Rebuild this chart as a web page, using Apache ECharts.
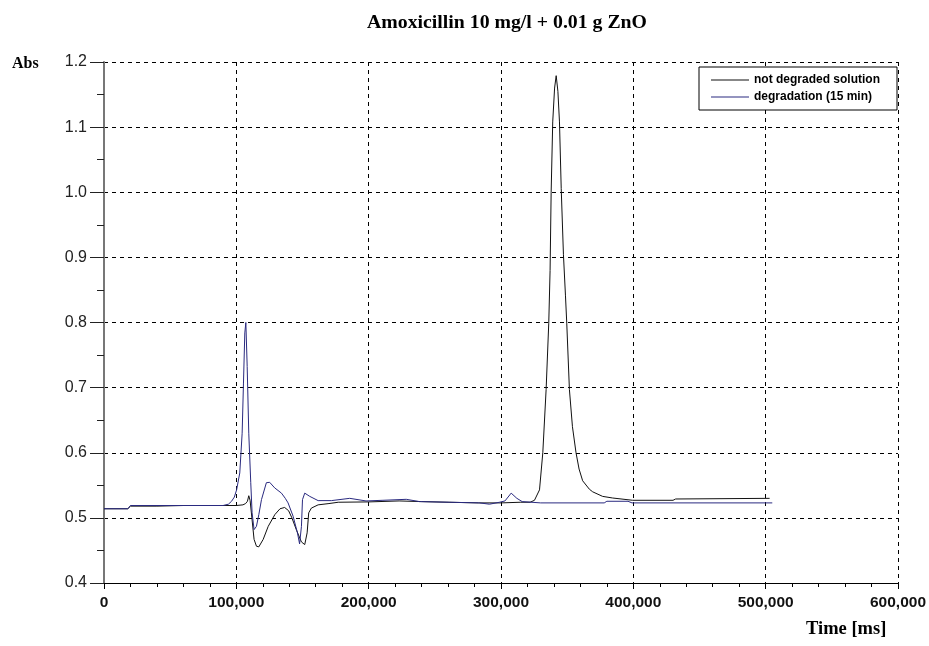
<!DOCTYPE html>
<html>
<head>
<meta charset="utf-8">
<script src="https://cdn.jsdelivr.net/npm/echarts@6/dist/echarts.min.js"></script>
<style>html,body{margin:0;padding:0;background:#fff}#c{width:929px;height:646px}</style>
</head>
<body>
<div id="c"></div>
<script>
const titleText = 'Amoxicillin 10 mg/l + 0.01 g ZnO';
const yAxisName = 'Abs';
const xAxisName = 'Time [ms]';
const seriesNames = ['not degraded solution', 'degradation (15 min)'];
const xTicks = [0, 100000, 200000, 300000, 400000, 500000, 600000];
const yTicks = [0.4, 0.5, 0.6, 0.7, 0.8, 0.9, 1.0, 1.1, 1.2];

// time [ms], absorbance
const notDegraded = [
  [0,0.514],[18000,0.514],[20000,0.518],[40000,0.518],[60000,0.519],[80000,0.519],[100000,0.519],
  [105000,0.520],[107000,0.522],[108400,0.5255],[109400,0.534],[110400,0.527],[111900,0.497],
  [113400,0.467],[115200,0.4565],[117000,0.4555],[120300,0.467],[124100,0.487],[129100,0.505],
  [133000,0.514],[136500,0.516],[139500,0.511],[142000,0.500],[145500,0.481],[149200,0.463],
  [151700,0.459],[153500,0.477],[154700,0.5077],[156700,0.515],[161800,0.520],[170000,0.522],
  [177000,0.524],[200000,0.5245],[223000,0.526],[240000,0.525],[260000,0.524],[283000,0.523],
  [300000,0.523],[315000,0.524],[322000,0.524],[325300,0.527],[329100,0.543],[331600,0.600],
  [334100,0.697],[336100,0.799],[337100,0.880],[337900,1.000],[339100,1.108],[340500,1.160],
  [341700,1.179],[343000,1.155],[344200,1.108],[345500,1.006],[347200,0.904],[348700,0.842],
  [349700,0.799],[351700,0.697],[354000,0.640],[356700,0.600],[359000,0.575],[361700,0.557],
  [366800,0.544],[369300,0.540],[376800,0.533],[384400,0.5305],[399500,0.527],[430000,0.527],
  [432000,0.529],[503000,0.530]
];
const degraded15 = [
  [0,0.514],[18000,0.514],[20000,0.519],[60000,0.519],[90000,0.519],[94000,0.521],[96400,0.5255],
  [98500,0.532],[100200,0.543],[102600,0.569],[104400,0.630],[105400,0.707],[106400,0.784],
  [107200,0.800],[108200,0.7325],[109400,0.630],[110900,0.554],[111900,0.508],[113400,0.482],
  [115200,0.487],[117000,0.505],[119000,0.528],[122700,0.554],[125200,0.5546],[129000,0.546],
  [134100,0.538],[137000,0.530],[139100,0.523],[142900,0.5025],[146200,0.477],[147800,0.460],
  [149200,0.487],[150000,0.528],[151700,0.538],[155500,0.533],[161800,0.5265],[171800,0.5265],
  [185700,0.530],[198000,0.526],[210800,0.527],[228400,0.5285],[238500,0.525],[261100,0.524],
  [283800,0.523],[291300,0.521],[298900,0.524],[303000,0.526],[307700,0.538],[312000,0.530],
  [316000,0.525],[330000,0.523],[378000,0.523],[380000,0.5255],[396000,0.5255],[399000,0.523],
  [505000,0.523]
];

const chart = echarts.init(document.getElementById('c'), null, {renderer:'canvas'});
const gridDash = {color:'#000', width:1, type:[4,4]};
chart.setOption({
  animation:false,
  backgroundColor:'#fff',
  title:{text:titleText, left:502, top:8, textAlign:'center',
    textStyle:{fontFamily:'Liberation Serif', fontWeight:'bold', fontSize:19.8, color:'#000'}},
  legend:{
    data:seriesNames.map(n=>({name:n, icon:'rect'})), orient:'vertical', right:32, top:67,
    itemWidth:38, itemHeight:1, itemGap:3,
    backgroundColor:'#fff', borderColor:'#000', borderWidth:1, borderRadius:0,
    padding:[6,17,6,12],
    textStyle:{fontFamily:'Liberation Sans', fontWeight:'bold', fontSize:12, color:'#000', lineHeight:14}
  },
  grid:{left:104, right:31, top:62, bottom:63, containLabel:false},
  xAxis:{
    type:'value', min:xTicks[0], max:xTicks[xTicks.length-1], interval:100000,
    axisLine:{show:true, onZero:false, lineStyle:{color:'#000', width:1}},
    axisTick:{show:true, length:6, lineStyle:{color:'#000'}},
    minorTick:{show:true, splitNumber:5, length:4, lineStyle:{color:'#000'}},
    splitLine:{show:true, lineStyle:gridDash},
    axisLabel:{margin:12, fontFamily:'Liberation Sans', fontWeight:'bold', fontSize:15.5, color:'#111',
      formatter:v=>v.toLocaleString('en-US')}
  },
  yAxis:{
    type:'value', min:yTicks[0], max:yTicks[yTicks.length-1], interval:0.1,
    axisLine:{show:true, onZero:false, lineStyle:{color:'#777', width:2}},
    axisTick:{show:true, length:14, lineStyle:{color:'#222'}},
    minorTick:{show:true, splitNumber:2, length:7, lineStyle:{color:'#222'}},
    splitLine:{show:true, lineStyle:gridDash},
    axisLabel:{margin:17, fontFamily:'Liberation Sans', fontSize:16, color:'#222',
      formatter:v=>v.toFixed(1)}
  },
  graphic:[
    {type:'text', left:12, top:56, style:{text:yAxisName, fontFamily:'Liberation Serif', fontWeight:'bold', fontSize:16, fill:'#000'}},
    {type:'text', left:806, top:620, style:{text:xAxisName, fontFamily:'Liberation Serif', fontWeight:'bold', fontSize:18.5, fill:'#000'}}
  ],
  series:[
    {name:seriesNames[0], type:'line', data:notDegraded, symbol:'none', smooth:false,
      lineStyle:{color:'#111', width:1}, itemStyle:{color:'#111'}},
    {name:seriesNames[1], type:'line', data:degraded15, symbol:'none', smooth:false,
      lineStyle:{color:'#2a2a80', width:1}, itemStyle:{color:'#2a2a80'}}
  ]
});
</script>
</body>
</html>
